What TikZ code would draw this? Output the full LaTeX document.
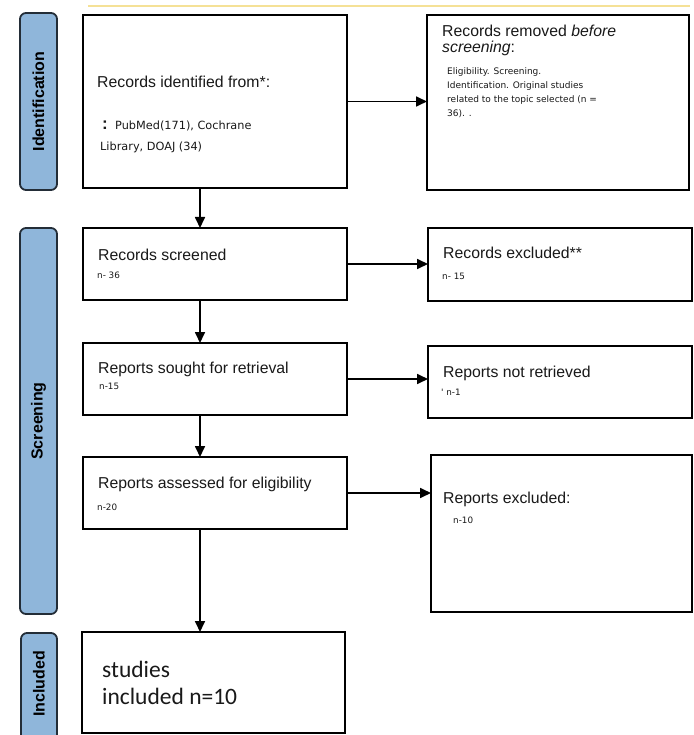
\documentclass[tikz,border=0pt]{standalone}
\usepackage{fontspec}
\setmainfont{Liberation Sans}
\newfontfamily\smallfont{DejaVu Sans}
\newfontfamily\carlitofont{Carlito}
\usetikzlibrary{arrows.meta}
\definecolor{barblue}{RGB}{143,182,218}
\definecolor{barline}{RGB}{35,45,55}
\definecolor{topline}{RGB}{245,225,150}
\definecolor{txt}{RGB}{25,25,25}
\tikzset{
  box/.style={draw=black, line width=1.8pt, inner sep=0pt, outer sep=0pt, fill=white},
  bar/.style={draw=barline, fill=barblue, line width=1.8pt, rounded corners=6pt, inner sep=0pt, outer sep=0pt},
  barlabel/.style={rotate=90, inner sep=0pt, font=\bfseries\fontsize{16}{18}\selectfont},
  head/.style={anchor=base west, inner sep=0pt, text=txt, font=\fontsize{15.8}{18}\selectfont},
  smalltxt/.style={anchor=base west, inner sep=0pt, text=txt, font=\smallfont\fontsize{11.3}{13}\selectfont},
  tinytxt/.style={anchor=base west, inner sep=0pt, text=txt, font=\smallfont\fontsize{9}{11}\selectfont},
  nval/.style={anchor=base west, inner sep=0pt, text=txt, font=\smallfont\fontsize{8.8}{10}\selectfont},
  bigtxt/.style={anchor=base west, inner sep=0pt, text=txt, font=\carlitofont\fontsize{23.5}{27}\selectfont},
  arr/.style={-{Triangle[length=11pt,width=10pt]}, line width=1.7pt}
}
\begin{document}
\begin{tikzpicture}[x=1pt,y=-1pt]
\useasboundingbox (0,0) rectangle (693,735);
% faint top line
\draw[topline, line width=1.2pt] (88,6) -- (690,6);
% phase bars
\node[bar, minimum width=37pt, minimum height=177pt] (idb) at (38.5,101.5) {};
\node[barlabel] (idl) at (idb.center) {Identification};
\node[bar, minimum width=37pt, minimum height=386pt] (scb) at (38.5,421) {};
\node[barlabel] (scl) at (scb.center) {Screening};
\node[bar, minimum width=36pt, minimum height=112pt] (inb) at (39,689) {};
\node[barlabel] (inl) at (39,684) {Included};
% boxes
\node[box, minimum width=264pt, minimum height=173pt] (b1) at (215,101.5) {};
\node[box, minimum width=262pt, minimum height=175pt] (b2) at (558,102.5) {};
\node[box, minimum width=264pt, minimum height=72pt] (b3) at (215,264) {};
\node[box, minimum width=264pt, minimum height=73pt] (b7) at (560,264.5) {};
\node[box, minimum width=264pt, minimum height=72pt] (b4) at (215,379) {};
\node[box, minimum width=264pt, minimum height=72pt] (b8) at (560,382) {};
\node[box, minimum width=264pt, minimum height=72pt] (b5) at (215,493) {};
\node[box, minimum width=261pt, minimum height=157pt] (b9) at (561.5,533.5) {};
\node[box, minimum width=263pt, minimum height=101pt] (b6) at (213.5,682.5) {};
% texts box 1
\node[head] (t1a) at (97,88) {Records identified from*:};
\node[anchor=base west, inner sep=0pt, text=txt, font=\fontsize{17}{18}\selectfont\bfseries] (t1c) at (102,130) {:};
\node[smalltxt] (t1b) at (115,130) {PubMed(171), Cochrane};
\node[smalltxt] (t1d) at (100,151) {Library, DOAJ (34)};
% texts box 2
\node[head] (t2a) at (442,37) {Records removed \textit{before}};
\node[head] (t2b) at (442,53) {\textit{screening}:};
\node[tinytxt] (t2c) at (447,75) {Eligibility. Screening.};
\node[tinytxt] (t2d) at (447,89) {Identification. Original studies};
\node[tinytxt] (t2e) at (447,103) {related to the topic selected (n =};
\node[tinytxt] (t2f) at (447,117) {36). .};
% box 3 / 7
\node[head] (t3a) at (98,260) {Records screened};
\node[nval] (t3b) at (97,278) {n- 36};
\node[head] (t7a) at (443,258) {Records excluded**};
\node[nval] (t7b) at (442,279) {n- 15};
% box 4 / 8
\node[head] (t4a) at (98,373) {Reports sought for retrieval};
\node[nval] (t4b) at (99,389) {n-15};
\node[head] (t8a) at (443,377) {Reports not retrieved};
\node[nval] (t8b) at (441,395) {' n-1};
% box 5 / 9
\node[head] (t5a) at (98,488) {Reports assessed for eligibility};
\node[nval] (t5b) at (97,510) {n-20};
\node[head] (t9a) at (443,503) {Reports excluded:};
\node[nval] (t9b) at (453,523) {n-10};
% box 6
\node[bigtxt] (t6a) at (102,677) {studies};
\node[bigtxt] (t6b) at (102,704) {included n=10};
% connectors
\coordinate (ax) at (200,0);
\draw[arr] (b1.east) -- (b1.east -| b2.west);
\draw[arr] (b3.east) -- (b3.east -| b7.west);
\draw[arr] (b4.east) -- (b4.east -| b8.west);
\draw[arr] (b5.east) -- (b5.east -| b9.west);
\draw[arr] (b1.south -| ax) -- (b3.north -| ax);
\draw[arr] (b3.south -| ax) -- (b4.north -| ax);
\draw[arr] (b4.south -| ax) -- (b5.north -| ax);
\draw[arr] (b5.south -| ax) -- (b6.north -| ax);
\end{tikzpicture}
\end{document}
